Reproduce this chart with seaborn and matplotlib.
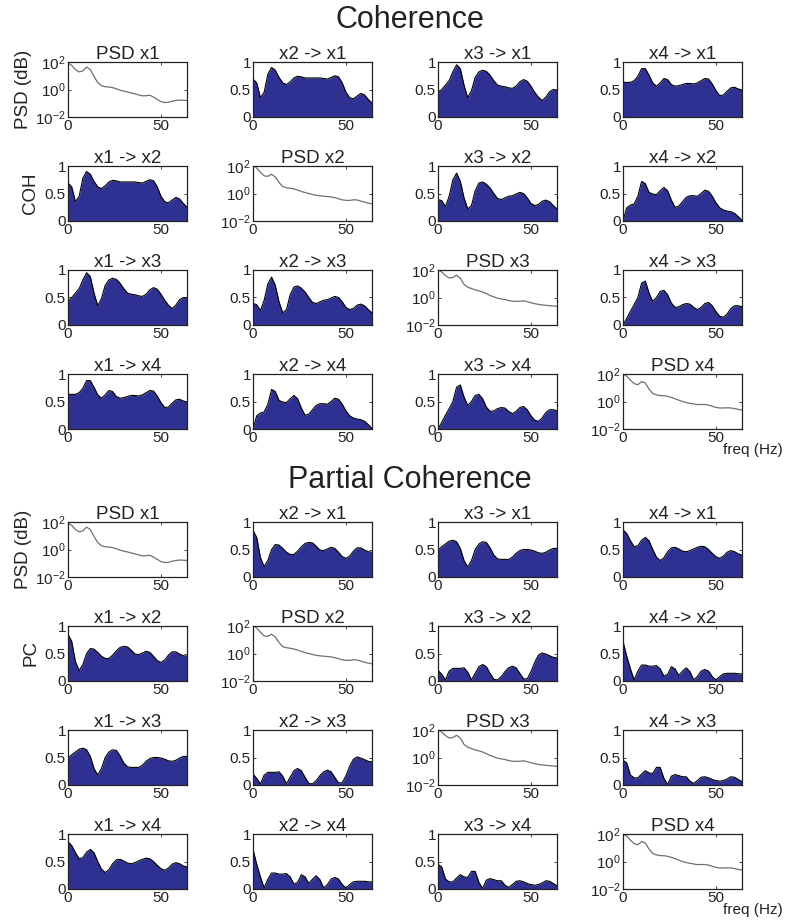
import numpy as np
import pandas as pd
import seaborn as sns
import matplotlib.pyplot as plt

# frequenze (Hz), passo 2 Hz
freq = np.arange(0, 65, 2)

# PSD (log10 della potenza)
psd_x1_log = [1.93, 1.75, 1.45, 1.28, 1.35, 1.63, 1.45, 0.95, 0.50, 0.28, 0.20, 0.18, 0.14, 0.05, -0.05, -0.12, -0.18,
              -0.25, -0.32, -0.40, -0.46, -0.45, -0.42, -0.55, -0.72, -0.88, -0.95, -0.93, -0.85, -0.80, -0.77, -0.78, -0.80]
psd_x2_log = [2.05, 1.85, 1.55, 1.28, 1.25, 1.40, 1.20, 0.80, 0.50, 0.42, 0.38, 0.33, 0.25, 0.15, 0.07, 0.00, -0.07,
              -0.13, -0.17, -0.20, -0.22, -0.25, -0.30, -0.38, -0.46, -0.50, -0.50, -0.46, -0.47, -0.55, -0.63, -0.70, -0.75]
psd_x3_log = [2.02, 1.85, 1.60, 1.42, 1.45, 1.62, 1.40, 0.95, 0.75, 0.65, 0.55, 0.48, 0.40, 0.28, 0.15, 0.05, -0.05,
              -0.10, -0.15, -0.22, -0.27, -0.28, -0.27, -0.24, -0.30, -0.38, -0.45, -0.50, -0.54, -0.57, -0.60, -0.62, -0.64]
psd_x4_log = [2.00, 1.85, 1.55, 1.30, 1.22, 1.45, 1.35, 0.90, 0.58, 0.48, 0.43, 0.42, 0.38, 0.30, 0.20, 0.10, 0.00,
              -0.08, -0.13, -0.18, -0.22, -0.22, -0.22, -0.26, -0.35, -0.43, -0.47, -0.47, -0.46, -0.47, -0.52, -0.57, -0.62]

# Coerenza (simmetrica)
coh_x1_x2 = [0.69, 0.62, 0.35, 0.45, 0.78, 0.90, 0.85, 0.72, 0.62, 0.59, 0.64, 0.71, 0.74, 0.73, 0.71, 0.71, 0.71,
             0.71, 0.71, 0.70, 0.69, 0.72, 0.75, 0.73, 0.62, 0.45, 0.35, 0.33, 0.38, 0.43, 0.40, 0.32, 0.25]
coh_x1_x3 = [0.42, 0.50, 0.58, 0.66, 0.82, 0.95, 0.88, 0.58, 0.35, 0.48, 0.72, 0.82, 0.85, 0.83, 0.76, 0.66, 0.58,
             0.56, 0.55, 0.53, 0.52, 0.56, 0.64, 0.68, 0.65, 0.56, 0.45, 0.36, 0.30, 0.36, 0.46, 0.50, 0.49]
coh_x1_x4 = [0.63, 0.63, 0.63, 0.66, 0.74, 0.88, 0.88, 0.76, 0.62, 0.56, 0.62, 0.70, 0.68, 0.59, 0.56, 0.57, 0.59,
             0.61, 0.61, 0.60, 0.62, 0.66, 0.70, 0.69, 0.60, 0.48, 0.39, 0.40, 0.47, 0.53, 0.54, 0.51, 0.49]
coh_x2_x3 = [0.39, 0.37, 0.26, 0.45, 0.75, 0.87, 0.72, 0.42, 0.22, 0.28, 0.55, 0.69, 0.71, 0.67, 0.60, 0.50, 0.41,
             0.39, 0.42, 0.45, 0.46, 0.49, 0.52, 0.50, 0.42, 0.32, 0.28, 0.30, 0.36, 0.38, 0.35, 0.28, 0.22]
coh_x2_x4 = [0.00, 0.24, 0.29, 0.31, 0.45, 0.72, 0.68, 0.52, 0.49, 0.48, 0.55, 0.61, 0.55, 0.38, 0.25, 0.27, 0.35,
             0.43, 0.46, 0.46, 0.45, 0.50, 0.56, 0.54, 0.45, 0.33, 0.24, 0.20, 0.18, 0.17, 0.14, 0.08, 0.01]
coh_x3_x4 = [0.00, 0.12, 0.25, 0.37, 0.50, 0.76, 0.80, 0.58, 0.43, 0.50, 0.61, 0.63, 0.55, 0.40, 0.32, 0.33, 0.37,
             0.39, 0.38, 0.32, 0.28, 0.32, 0.39, 0.41, 0.35, 0.24, 0.16, 0.14, 0.20, 0.30, 0.35, 0.35, 0.33]

# Coerenza parziale
pc_x1_x2 = [0.85, 0.72, 0.35, 0.19, 0.30, 0.50, 0.59, 0.58, 0.52, 0.45, 0.41, 0.41, 0.47, 0.55, 0.61, 0.63, 0.62,
            0.56, 0.49, 0.48, 0.51, 0.54, 0.52, 0.45, 0.37, 0.34, 0.38, 0.47, 0.53, 0.53, 0.49, 0.46, 0.45]
pc_x1_x3 = [0.49, 0.55, 0.60, 0.65, 0.67, 0.64, 0.52, 0.30, 0.18, 0.30, 0.50, 0.60, 0.64, 0.63, 0.53, 0.40, 0.33,
            0.32, 0.32, 0.32, 0.36, 0.43, 0.48, 0.50, 0.50, 0.49, 0.47, 0.44, 0.43, 0.45, 0.49, 0.52, 0.52]
pc_x1_x4 = [0.86, 0.79, 0.66, 0.55, 0.57, 0.67, 0.72, 0.66, 0.50, 0.36, 0.30, 0.35, 0.46, 0.53, 0.54, 0.51, 0.47,
            0.46, 0.48, 0.51, 0.54, 0.56, 0.55, 0.50, 0.43, 0.37, 0.34, 0.38, 0.45, 0.48, 0.46, 0.42, 0.40]
pc_x2_x3 = [0.20, 0.12, 0.02, 0.18, 0.23, 0.23, 0.23, 0.24, 0.16, 0.02, 0.14, 0.26, 0.30, 0.26, 0.14, 0.03, 0.02,
            0.08, 0.17, 0.24, 0.27, 0.24, 0.14, 0.04, 0.04, 0.17, 0.34, 0.47, 0.51, 0.49, 0.46, 0.43, 0.42]
pc_x2_x4 = [0.72, 0.45, 0.22, 0.02, 0.18, 0.29, 0.29, 0.27, 0.27, 0.28, 0.22, 0.09, 0.12, 0.26, 0.22, 0.10, 0.18,
            0.24, 0.17, 0.02, 0.08, 0.18, 0.21, 0.18, 0.08, 0.02, 0.08, 0.13, 0.14, 0.14, 0.14, 0.13, 0.13]
pc_x3_x4 = [0.45, 0.40, 0.18, 0.13, 0.13, 0.20, 0.26, 0.22, 0.21, 0.32, 0.32, 0.12, 0.01, 0.16, 0.19, 0.17, 0.15,
            0.15, 0.07, 0.03, 0.08, 0.14, 0.15, 0.13, 0.10, 0.08, 0.07, 0.08, 0.11, 0.15, 0.14, 0.10, 0.06]

psd_list = [psd_x1_log, psd_x2_log, psd_x3_log, psd_x4_log]
coh = {(1, 2): coh_x1_x2, (1, 3): coh_x1_x3, (1, 4): coh_x1_x4,
       (2, 3): coh_x2_x3, (2, 4): coh_x2_x4, (3, 4): coh_x3_x4}
pc = {(1, 2): pc_x1_x2, (1, 3): pc_x1_x3, (1, 4): pc_x1_x4,
      (2, 3): pc_x2_x3, (2, 4): pc_x2_x4, (3, 4): pc_x3_x4}

sns.set_style('ticks')
plt.rcParams['font.family'] = ['Liberation Sans', 'DejaVu Sans']
plt.rcParams['mathtext.default'] = 'regular'
plt.rcParams['axes.linewidth'] = 0.9

FILL = '#2e3192'
TXT = '#222222'
W, H = 787, 923
fig = plt.figure(figsize=(W / 100, H / 100), dpi=100)


def add_ax(left, top, w=119, h=55):
    return fig.add_axes([left / W, 1 - (top + h) / H, w / W, h / H])


def style_ax(ax):
    ax.set_xlim(0, 64)
    ax.set_xticks([0, 50])
    ax.set_xticklabels(['0', '50'])
    ax.tick_params(direction='in', length=2, width=0.6, top=True, right=True,
                   labelsize=11, pad=1.5, colors=TXT)
    for s in ax.spines.values():
        s.set_color(TXT)
    ax.set_xlabel('')
    ax.set_ylabel('')


def draw_grid(grid_top, title, data, row_label):
    fig.text(410 / W, 1 - (grid_top - 42) / H, title, ha='center', va='center',
             fontsize=22, color=TXT)
    for i in range(4):
        for j in range(4):
            ax = add_ax(68 + 185 * j, grid_top + 104 * i)
            if i == j:
                df = pd.DataFrame({'f': freq, 'p': 10.0 ** np.array(psd_list[i])})
                sns.lineplot(data=df, x='f', y='p', color='#707070', lw=0.9, ax=ax)
                ax.set_yscale('log')
                ax.set_ylim(1e-2, 1e2)
                ax.set_yticks([1e-2, 1e0, 1e2])
                ax.set_yticklabels(['10$^{-2}$', '10$^{0}$', '10$^{2}$'])
                ax.minorticks_off()
                ax.set_title(f'PSD x{i + 1}', fontsize=13.5, pad=2, color=TXT)
            else:
                vals = data[(min(i, j) + 1, max(i, j) + 1)]
                ax.fill_between(freq, vals, 0, color=FILL, lw=0)
                sns.lineplot(x=freq, y=vals, color='black', lw=0.8, ax=ax)
                ax.set_ylim(0, 1)
                ax.set_yticks([0, 0.5, 1])
                ax.set_yticklabels(['0', '0.5', '1'])
                ax.set_title(f'x{j + 1} -> x{i + 1}', fontsize=13.5, pad=2, color=TXT)
            style_ax(ax)
            if j == 0 and i == 0:
                ax.set_ylabel('PSD (dB)', fontsize=13.5, color=TXT, labelpad=2)
            if j == 0 and i == 1:
                ax.set_ylabel(row_label, fontsize=13.5, color=TXT, labelpad=4)
    fig.text(723 / W, 1 - (grid_top + 388) / H, 'freq (Hz)', ha='left', va='center',
             fontsize=11, color=TXT)


draw_grid(62, 'Coherence', coh, 'COH')
draw_grid(522, 'Partial Coherence', pc, 'PC')

fig.savefig('out.png', dpi=100)
